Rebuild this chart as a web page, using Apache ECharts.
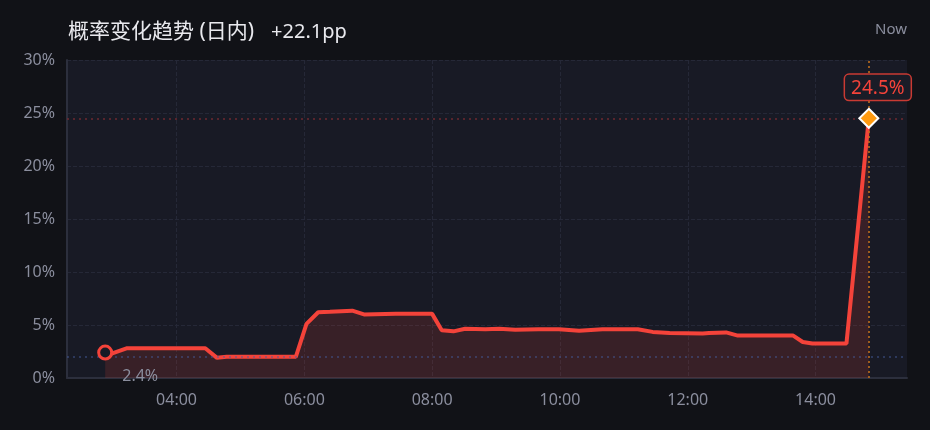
<!DOCTYPE html>
<html>
<head>
<meta charset="utf-8">
<script src="https://cdn.jsdelivr.net/npm/echarts@6/dist/echarts.min.js"></script>
<style>
  html, body { margin: 0; padding: 0; background: #111217; }
  #chart { width: 930px; height: 430px; }
</style>
</head>
<body>
<div id="chart"></div>
<script>
// ---- data ----
const times = ['02:53','02:59','03:13','04:27','04:38','04:47','05:52','06:02','06:13','06:24',
               '06:45','06:56','07:26','08:00','08:09','08:20','08:31','08:50','09:03','09:18',
               '09:40','09:59','10:18','10:40','11:13','11:27','11:43','12:14','12:20','12:36',
               '12:47','13:39','13:48','13:57','14:29','14:50'];
const values = [2.4, 2.3, 2.8, 2.8, 1.9, 2.0, 2.0, 5.1, 6.2, 6.25,
                6.35, 6.0, 6.05, 6.05, 4.5, 4.4, 4.65, 4.6, 4.65, 4.55,
                4.6, 4.6, 4.45, 4.6, 4.6, 4.35, 4.25, 4.2, 4.25, 4.3,
                4.0, 4.0, 3.4, 3.25, 3.25, 24.5];
const baselineValue = 2.0;
const xTickTimes = ['04:00', '06:00', '08:00', '10:00', '12:00', '14:00'];
const yTicks = [0, 5, 10, 15, 20, 25, 30];
const titleText = '概率变化趋势 (日内)';
const nowText = 'Now';

// ---- build ----
const toMin = t => { const p = t.split(':'); return (+p[0]) * 60 + (+p[1]); };
const fmtMin = m => { const h = Math.floor(m / 60), mm = Math.round(m % 60);
  return String(h).padStart(2, '0') + ':' + String(mm).padStart(2, '0'); };
const tms = times.map(toMin);
const xTicks = xTickTimes.map(toMin);
const first = 0, last = values.length - 1;
const span = tms[last] - tms[first];
const pad = span * 0.05;
const delta = (values[last] - values[first]).toFixed(1);

const RED = '#f4433a';
const PLOT_BG = '#181a25';
const GRAY = '#8b8e9e';
const FONT = '"Noto Sans", "Noto Sans CJK SC", sans-serif';

const endpoints = [
  {
    value: [tms[first], values[first]],
    symbol: 'circle', symbolSize: 13,
    itemStyle: { color: PLOT_BG, borderColor: RED, borderWidth: 3, opacity: 1 },
    label: {
      show: true, position: 'bottom', offset: [35, 3],
      formatter: values[first].toFixed(1) + '%', color: GRAY, fontSize: 16, fontFamily: FONT
    }
  },
  {
    value: [tms[last], values[last]],
    symbol: 'diamond', symbolSize: 19,
    itemStyle: { color: '#ff9a10', borderColor: '#ffffff', borderWidth: 2, opacity: 1 },
    label: {
      show: true, position: 'top', offset: [9, -3],
      formatter: values[last].toFixed(1) + '%', color: RED, fontSize: 19, fontFamily: FONT,
      backgroundColor: '#1a1c27', borderColor: '#c93a33', borderWidth: 1.5, borderRadius: 4,
      padding: [4, 6, 2, 6]
    }
  }
];

const chart = echarts.init(document.getElementById('chart'), null, { renderer: 'canvas' });
chart.setOption({
  backgroundColor: '#111217',
  animation: false,
  textStyle: { fontFamily: FONT },
  title: [{
    text: '{a|' + titleText + '}{b|+' + delta + 'pp}',
    left: 68, top: 22, padding: 0,
    textStyle: {
      fontWeight: 'normal',
      rich: {
        a: { fontSize: 21, color: '#e9e9ee', fontFamily: FONT, fontWeight: 'normal' },
        b: { fontSize: 20, color: '#e9e9ee', fontFamily: FONT, fontWeight: 'normal', padding: [0, 0, 0, 17] }
      }
    }
  }, {
    text: nowText,
    right: 23, top: 22, padding: 0,
    textStyle: { fontSize: 15, color: GRAY, fontWeight: 'normal', fontFamily: FONT }
  }],
  grid: {
    left: 67, right: 23, top: 60, bottom: 52,
    show: true, backgroundColor: PLOT_BG, borderWidth: 0
  },
  xAxis: {
    type: 'value',
    min: tms[first] - pad,
    max: tms[last] + pad,
    axisLine: { show: true, onZero: false, lineStyle: { color: '#2c2f3d', width: 2 } },
    axisTick: { show: false, customValues: xTicks },
    axisLabel: {
      customValues: xTicks,
      formatter: v => fmtMin(v),
      color: GRAY, fontSize: 16, margin: 14, fontFamily: FONT
    },
    splitLine: { show: true, lineStyle: { color: '#252837', type: 'dashed', width: 1 } }
  },
  yAxis: {
    type: 'value',
    min: yTicks[0], max: yTicks[yTicks.length - 1], interval: yTicks[1] - yTicks[0],
    axisLine: { show: true, onZero: false, lineStyle: { color: '#2c2f3d', width: 2 } },
    axisTick: { show: false },
    axisLabel: { formatter: '{value}%', color: GRAY, fontSize: 16, margin: 12, fontFamily: FONT },
    splitLine: { show: true, lineStyle: { color: '#252837', type: 'dashed', width: 1 } }
  },
  series: [{
    type: 'line',
    data: tms.map((t, i) => [t, values[i]]),
    symbol: 'none',
    smooth: false,
    lineStyle: { color: RED, width: 4 },
    itemStyle: { color: RED },
    areaStyle: { color: 'rgba(244,67,54,0.21)' },
    z: 3,
    markLine: {
      silent: true,
      symbol: 'none',
      label: { show: false },
      data: [
        { yAxis: values[last], lineStyle: { color: '#6e2a30', type: [2, 4], width: 1.5 } },
        { yAxis: baselineValue, lineStyle: { color: 'rgba(70,95,160,0.6)', type: [2, 4], width: 1.5 } },
        { xAxis: tms[last], lineStyle: { color: '#c8731c', type: [2, 3], width: 1.5 } }
      ]
    }
  }, {
    type: 'scatter',
    data: endpoints,
    z: 6,
    silent: true,
    itemStyle: { opacity: 1 }
  }]
});
</script>
</body>
</html>
